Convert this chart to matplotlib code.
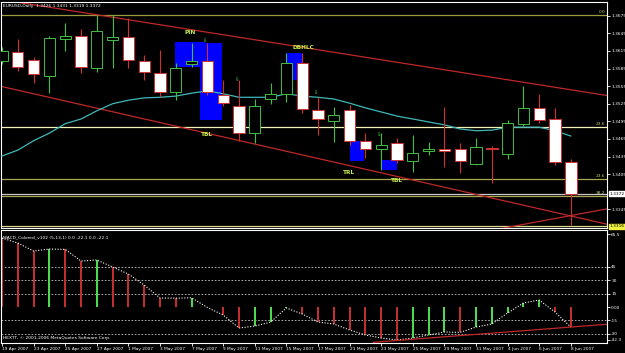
import matplotlib
matplotlib.use('Agg')
import matplotlib.pyplot as plt
from matplotlib.patches import Rectangle
from matplotlib.transforms import blended_transform_factory

# ---------------- data ----------------
date_labels = ['19 Apr 2007', '23 Apr 2007', '25 Apr 2007', '27 Apr 2007', '1 May 2007',
               '3 May 2007', '7 May 2007', '9 May 2007', '11 May 2007', '15 May 2007',
               '17 May 2007', '21 May 2007', '23 May 2007', '25 May 2007', '29 May 2007',
               '31 May 2007', '4 Jun 2007', '6 Jun 2007', '8 Jun 2007']
opens = [1.3598, 1.3613, 1.3600, 1.3572, 1.3635, 1.3640, 1.3586, 1.3634, 1.3639, 1.3598,
         1.3577, 1.3545, 1.3593, 1.3598, 1.3540, 1.3521, 1.3475, 1.3533, 1.3542, 1.3594,
         1.3514, 1.3496, 1.3514, 1.3462, 1.3448, 1.3458, 1.3428, 1.3445, 1.3448, 1.3448,
         1.3422, 1.3450, 1.3439, 1.3491, 1.3518, 1.3499, 1.3426]
highs = [1.3622, 1.3635, 1.3605, 1.3640, 1.3663, 1.3652, 1.3677, 1.3676, 1.3671, 1.3608,
         1.3617, 1.3594, 1.3628, 1.3628, 1.3565, 1.3565, 1.3533, 1.3560, 1.3611, 1.3611,
         1.3536, 1.3519, 1.3523, 1.3475, 1.3475, 1.3467, 1.3472, 1.3460, 1.3519, 1.3458,
         1.3467, 1.3453, 1.3497, 1.3555, 1.3542, 1.3518, 1.3431]
lows = [1.3593, 1.3581, 1.3560, 1.3543, 1.3615, 1.3577, 1.3579, 1.3586, 1.3586, 1.3565,
        1.3536, 1.3531, 1.3588, 1.3540, 1.3521, 1.3462, 1.3458, 1.3525, 1.3528, 1.3509,
        1.3472, 1.3460, 1.3455, 1.3433, 1.3412, 1.3424, 1.3409, 1.3438, 1.3417, 1.3407,
        1.3421, 1.3390, 1.3431, 1.3487, 1.3492, 1.3421, 1.3319]
closes = [1.3615, 1.3588, 1.3576, 1.3637, 1.3640, 1.3588, 1.3649, 1.3639, 1.3600, 1.3579,
          1.3545, 1.3586, 1.3598, 1.3545, 1.3526, 1.3475, 1.3521, 1.3542, 1.3594, 1.3516,
          1.3499, 1.3506, 1.3462, 1.3448, 1.3455, 1.3429, 1.3441, 1.3448, 1.3445, 1.3428,
          1.3451, 1.3448, 1.3492, 1.3518, 1.3497, 1.3426, 1.3372]
ma_values = [1.3436, 1.3446, 1.3462, 1.3475, 1.3491, 1.3499, 1.3513, 1.3525, 1.3531, 1.3535,
             1.3536, 1.3538, 1.3543, 1.3547, 1.3542, 1.3536, 1.3536, 1.3536, 1.3542, 1.3538,
             1.3536, 1.3533, 1.3526, 1.3518, 1.3511, 1.3504, 1.3499, 1.3494, 1.3489, 1.3482,
             1.3479, 1.3480, 1.3485, 1.3485, 1.3485, 1.3479, 1.3470]
macd_values = [77.2, 71.6, 62.7, 64.9, 64.5, 51.5, 52.6, 44.8, 36.9, 24.6,
               10.1, 9.9, 10.3, -0.5, -9.0, -23.5, -21.3, -16.8, -1.1, -7.8,
               -16.8, -19.0, -25.7, -31.3, -34.7, -36.9, -34.7, -31.3, -28.0, -28.4,
               -22.4, -19.0, -6.7, 4.5, 7.8, -5.6, -22.4]
macd_up = [0, 0, 0, 1, 0, 0, 1, 0, 0, 0,
           0, 0, 1, 0, 0, 0, 1, 1, 1, 0,
           0, 0, 0, 0, 0, 0, 1, 1, 1, 0,
           1, 1, 1, 1, 1, 0, 0]
price_ticks = [1.3675, 1.3645, 1.3615, 1.3585, 1.3555, 1.3525, 1.3495, 1.3465, 1.3435, 1.3405, 1.3345]
fib_levels = [1.3677, 1.3486, 1.3397, 1.3368]
fib_labels = ['0.0', '23.6', '23.6', '38.2']
macd_levels = [45, 30, 15, -15, -30]
pattern_labels = ['PIN', 'DBHLC', 'TBL', 'TRL', 'TBL']

# ---------------- figure ----------------
W, H = 625, 353
fig = plt.figure(figsize=(W / 100, H / 100), dpi=100, facecolor='black')

def px_box(x0, y0, x1, y1):
    return [x0 / W, 1 - y1 / H, (x1 - x0) / W, (y1 - y0) / H]

ax = fig.add_axes(px_box(1, 2, 607, 227.5))
ax2 = fig.add_axes(px_box(1, 230, 607, 343.3))
XL = (-0.063, 38.29)
for a in (ax, ax2):
    a.set_facecolor('black')
    a.set_xlim(*XL)
    for s in a.spines.values():
        s.set_color('white')
        s.set_linewidth(0.8)
ax.set_ylim(1.33142, 1.36983)
ax2.set_ylim(-40.6, 86.2)

n = len(opens)
idx = list(range(n))
BULL = '#3fc03f'
BEAR = '#d03030'
AXFS = 3.1
TXTFS = 3.2

# blue highlight boxes (price panel)
boxes = [(10.95, 12.85, 1.35876, 1.36302), (12.53, 13.92, 1.34973, 1.36285),
         (17.97, 18.99, 1.35655, 1.36115), (22.0, 22.9, 1.34275, 1.34615),
         (24.0, 25.0, 1.34121, 1.34292)]
for x0, x1, y0, y1 in boxes:
    ax.add_patch(Rectangle((x0, y0), x1 - x0, y1 - y0, facecolor='#0000ff', edgecolor='none', zorder=1))

# fib / horizontal lines
fib_colors = ['#9a9a40', '#f0f0b8', '#a8a850', '#a8a850']
for lv, col in zip(fib_levels, fib_colors):
    ax.axhline(lv, color=col, lw=0.9, zorder=2)
ax.axhline(closes[-1], color='#c8c8c8', lw=0.9, zorder=2)
ax.axhline(1.3316, color='#d8d890', lw=0.9, zorder=2)
for lv, lab in zip(fib_levels, fib_labels):
    ax.text(XL[1] - 0.1, lv + 0.00012, lab, color='#c8c860', fontsize=AXFS, ha='right', va='bottom', zorder=6)

# trend channel lines
ax.plot([0.9, 38.3], [1.36983, 1.3539], color='#c02828', lw=0.9, zorder=2)
ax.plot([-0.13, 39.4], [1.3555, 1.3313], color='#c02828', lw=0.9, zorder=2)
ax.plot([29.5, 38.5], [1.3302, 1.3347], color='#c02828', lw=0.9, zorder=2)

# moving average
ax.plot(idx, ma_values, color='#40b8b8', lw=0.9, zorder=3)

# candles
for i, (o, h, l, c) in enumerate(zip(opens, highs, lows, closes)):
    up = c >= o
    col = BULL if up else BEAR
    ax.vlines(i, l, h, color=col, lw=0.8, zorder=4)
    lo, hi = min(o, c), max(o, c)
    ax.add_patch(Rectangle((i - 0.36, lo), 0.72, max(hi - lo, 0.00002),
                           facecolor='black' if up else 'white',
                           edgecolor=col, lw=0.7, zorder=5))

# pattern labels
lab_col = '#c8f050'
label_pos = [(11.9, 1.36455), (19.05, 1.3620), (12.97, 1.34718), (21.96, 1.34087), (25.0, 1.3395)]
for (x, y), t in zip(label_pos, pattern_labels):
    ax.text(x, y, t, color=lab_col, fontsize=4.2, fontweight='bold', ha='center', va='center', zorder=7)
for x, y in [(12.85, 1.36336), (14.87, 1.35655), (19.87, 1.3545), (23.9, 1.34718)]:
    ax.text(x, y, '\u21d3', color='#40c040', fontsize=4, ha='center', va='center', zorder=7)

ax.text(0.004, 0.99, 'EURUSD,Daily  1.3426 1.3431 1.3319 1.3372', transform=ax.transAxes,
        color='white', fontsize=TXTFS, ha='left', va='top')

# price axis
ax.yaxis.tick_right()
ax.set_yticks(price_ticks)
ax.set_yticklabels(['%.4f' % v for v in price_ticks])
ax.tick_params(axis='y', colors='white', labelsize=AXFS, length=2, width=0.6, pad=1)
ax.tick_params(axis='x', bottom=False, labelbottom=False)
tr = blended_transform_factory(ax.transAxes, ax.transData)
ax.text(1.004, closes[-1], '1.3372', transform=tr, color='black', fontsize=AXFS, ha='left', va='center',
        bbox=dict(boxstyle='square,pad=0.15', fc='white', ec='white'), clip_on=False)
ax.text(1.004, 1.3316, '1.3316', transform=tr, color='black', fontsize=AXFS, ha='left', va='center',
        bbox=dict(boxstyle='square,pad=0.15', fc='#f0f040', ec='#f0f040'), clip_on=False)

# ---------------- MACD panel ----------------
for lv in macd_levels:
    ax2.axhline(lv, color='#c8c8c8', lw=0.6, ls=(0, (2, 2)))
cols = ['#50e050' if u else '#c83030' for u in macd_up]
ax2.vlines(idx, 0, macd_values, colors=cols, lw=1.4)
ax2.plot(idx, macd_values, color='white', lw=0.8, ls=(0, (1, 1.5)))
ax2.plot([23.5, 38.5], [-39.5, -19.0], color='#c02828', lw=0.9)

ax2.text(0.004, 0.955, 'MACD_Colored_v102 (5,13,1) 0.0 -22.1 0.0 -22.1', transform=ax2.transAxes,
         color='white', fontsize=TXTFS, ha='left', va='top')
ax2.text(0.004, 0.03, 'HEXTT, \u00a9 2001-2006 MetaQuotes Software Corp.', transform=ax2.transAxes,
         color='white', fontsize=TXTFS, ha='left', va='bottom')

ax2.yaxis.tick_right()
macd_ticks = [81.7, 45, 30, 15, 0, -15, -30, -36.9]
ax2.set_yticks(macd_ticks)
ax2.set_yticklabels(['65.5', '45', '30', '15', '0.00', '-15', '-30', '-42.3'])
ax2.tick_params(axis='y', colors='white', labelsize=AXFS, length=2, width=0.6, pad=1)

ax2.set_xticks(list(range(0, n, 2)))
ax2.set_xticklabels(date_labels)
ax2.tick_params(axis='x', colors='white', labelsize=AXFS, length=2, width=0.6, pad=1)
for lab in ax2.get_xticklabels():
    lab.set_horizontalalignment('left')

fig.savefig('out.png', dpi=100, facecolor='black')
